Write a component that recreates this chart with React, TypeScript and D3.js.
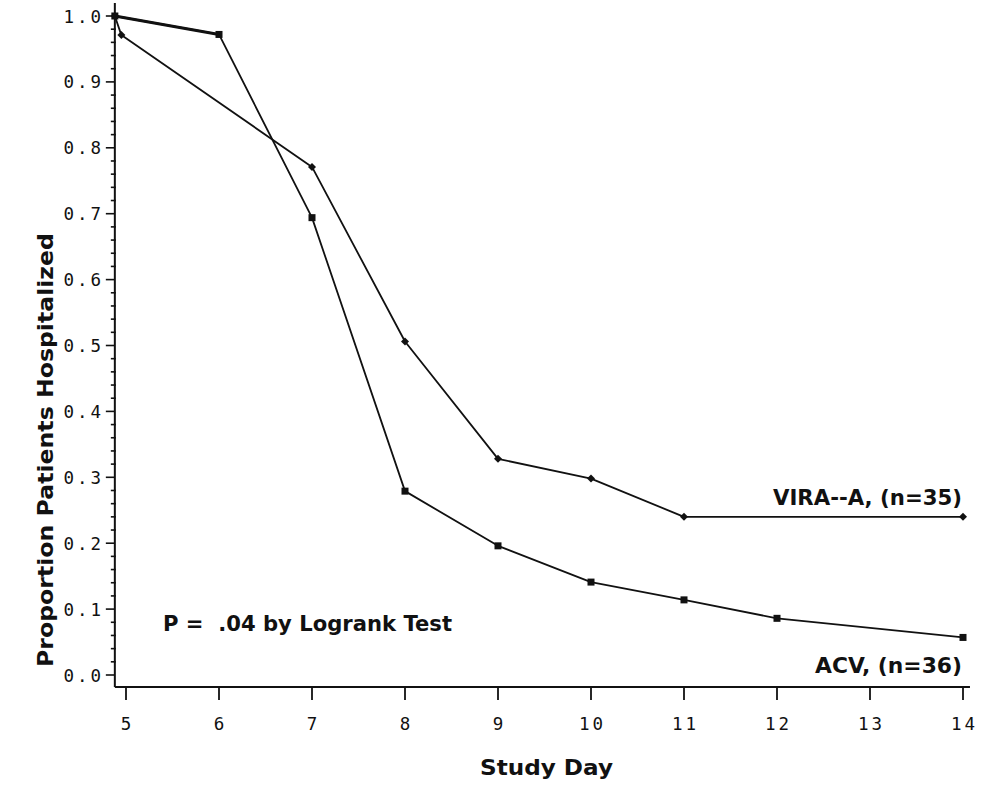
import React from "react";
import * as d3 from "d3";

// Kaplan-Meier style curves: proportion still hospitalized by study day
const acvDays = [4.88, 6, 7, 8, 9, 10, 11, 12, 14];
const acvValues = [1.0, 0.972, 0.694, 0.279, 0.196, 0.141, 0.114, 0.086, 0.057];

const viraDays = [4.88, 4.95, 7, 8, 9, 10, 11, 14];
const viraValues = [1.0, 0.971, 0.771, 0.506, 0.328, 0.298, 0.24, 0.24];

const xTicks = [5, 6, 7, 8, 9, 10, 11, 12, 13, 14];
const yTicks = [0, 0.1, 0.2, 0.3, 0.4, 0.5, 0.6, 0.7, 0.8, 0.9, 1.0];

const viraLabel = "VIRA--A, (n=35)";
const acvLabel = "ACV, (n=36)";
const pLabel = "P =  .04 by Logrank Test";
const xTitle = "Study Day";
const yTitle = "Proportion Patients Hospitalized";

const W = 998;
const H = 790;

export default function App() {
  const x = d3.scaleLinear().domain([5, 14]).range([126, 963]);
  const y = d3.scaleLinear().domain([0, 1]).range([675, 16]);

  const axisLeft = x(4.88);
  const axisRight = x(14.075);
  const axisBottom = 687;
  const axisTop = 3;

  const line = d3
    .line<[number, number]>()
    .x((d) => x(d[0]))
    .y((d) => y(d[1]));

  const acvPts: [number, number][] = acvDays.map((d, i) => [d, acvValues[i]]);
  const viraPts: [number, number][] = viraDays.map((d, i) => [d, viraValues[i]]);

  const minorTicks = d3.range(0, 1.0001, 0.02).filter((v) => Math.abs(Math.round(v * 10) - v * 10) > 1e-6);

  const labelFont = "'DejaVu Sans', sans-serif";
  const tickFont = "'DejaVu Sans Mono', monospace";

  return (
    <svg width={W} height={H} style={{ display: "block", position: "absolute", left: 0, top: 0, background: "#fff" }}>
      <rect x={0} y={0} width={W} height={H} fill="#fff" />
      {/* axes */}
      <line x1={axisLeft} x2={axisLeft} y1={axisTop} y2={axisBottom} stroke="#111" strokeWidth={2} />
      <line x1={axisLeft} x2={axisRight} y1={axisBottom} y2={axisBottom} stroke="#111" strokeWidth={2} />

      {/* y ticks */}
      {yTicks.map((t) => (
        <g key={"yt" + t}>
          <line x1={axisLeft - 9} x2={axisLeft} y1={y(t)} y2={y(t)} stroke="#111" strokeWidth={1.6} />
          <text
            x={104}
            y={y(t) + 6.5}
            textAnchor="end"
            fontFamily={tickFont}
            fontSize={17.5}
            letterSpacing={3}
            fill="#111"
          >
            {t.toFixed(1)}
          </text>
        </g>
      ))}
      {minorTicks.map((t) => (
        <line key={"ym" + t} x1={axisLeft - 4} x2={axisLeft + 1} y1={y(t)} y2={y(t)} stroke="#111" strokeWidth={1.6} />
      ))}

      {/* x ticks */}
      {xTicks.map((t) => (
        <g key={"xt" + t}>
          <line x1={x(t)} x2={x(t)} y1={axisBottom} y2={axisBottom + 13} stroke="#111" strokeWidth={1.8} />
          <text
            x={x(t) + 1.5}
            y={729.5}
            textAnchor="middle"
            fontFamily={tickFont}
            fontSize={17.5}
            letterSpacing={3}
            fill="#111"
          >
            {t}
          </text>
        </g>
      ))}

      {/* curves */}
      <path d={line(acvPts) || ""} fill="none" stroke="#111" strokeWidth={1.8} strokeLinejoin="round" />
      <path d={line(acvPts.slice(0, 2)) || ""} fill="none" stroke="#111" strokeWidth={3} />
      <path d={line(viraPts) || ""} fill="none" stroke="#111" strokeWidth={1.8} strokeLinejoin="round" />

      {acvPts.map((p, i) => (
        <rect key={"am" + i} x={x(p[0]) - 3.5} y={y(p[1]) - 3.5} width={7} height={7} fill="#111" />
      ))}
      {viraPts.map((p, i) => (
        <path
          key={"vm" + i}
          d={`M${x(p[0])},${y(p[1]) - 4}L${x(p[0]) + 4},${y(p[1])}L${x(p[0])},${y(p[1]) + 4}L${x(p[0]) - 4},${y(p[1])}Z`}
          fill="#111"
        />
      ))}

      {/* annotations */}
      <text x={773} y={505} fontFamily={labelFont} fontWeight="bold" fontSize={22} textLength={189} lengthAdjust="spacingAndGlyphs" fill="#111">
        {viraLabel}
      </text>
      <text x={815} y={673} fontFamily={labelFont} fontWeight="bold" fontSize={22} textLength={147} lengthAdjust="spacingAndGlyphs" fill="#111">
        {acvLabel}
      </text>
      <text
        x={163}
        y={631}
        fontFamily={labelFont}
        fontWeight="bold"
        fontSize={22}
        textLength={289}
        lengthAdjust="spacingAndGlyphs"
        fill="#111"
        style={{ whiteSpace: "pre" }}
      >
        {pLabel}
      </text>

      {/* axis titles */}
      <text x={480} y={775} fontFamily={labelFont} fontWeight="bold" fontSize={22} textLength={133} lengthAdjust="spacingAndGlyphs" fill="#111">
        {xTitle}
      </text>
      <text
        transform={`translate(53,667) rotate(-90)`}
        x={0}
        y={0}
        fontFamily={labelFont}
        fontWeight="bold"
        fontSize={22}
        textLength={434}
        lengthAdjust="spacingAndGlyphs"
        fill="#111"
      >
        {yTitle}
      </text>
    </svg>
  );
}
